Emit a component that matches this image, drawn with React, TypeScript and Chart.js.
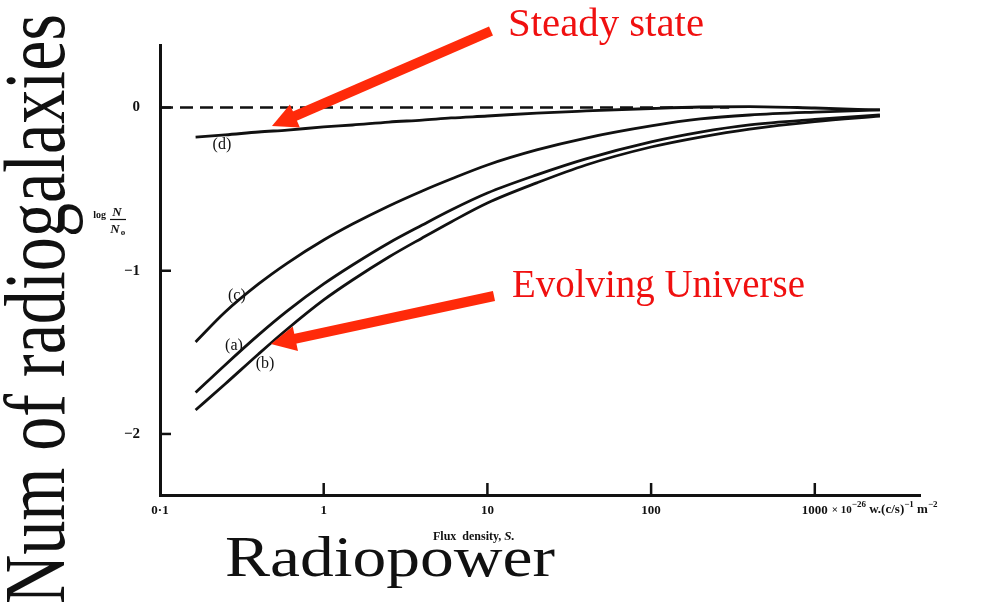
import { useEffect, useRef } from 'react';
import { Chart, registerables } from 'chart.js';

Chart.register(...registerables);

// Flux density S (x10^-26 W (c/s)^-1 m^-2) where each model curve is sampled
const fluxDensity = [0.165, 0.25, 0.4, 0.6, 1, 1.5, 2.5, 4, 6, 10, 20, 40, 100, 200, 400, 1000, 2500];

// log(N/N0) predicted by each model
const curveA = [-1.746, -1.577, -1.393, -1.246, -1.081, -0.965, -0.83, -0.72, -0.628, -0.524, -0.413, -0.315, -0.211, -0.151, -0.107, -0.073, -0.046];
const curveB = [-1.853, -1.694, -1.51, -1.357, -1.179, -1.057, -0.916, -0.799, -0.701, -0.585, -0.462, -0.352, -0.242, -0.181, -0.132, -0.086, -0.052];
const curveC = [-1.436, -1.253, -1.081, -0.953, -0.812, -0.714, -0.603, -0.511, -0.438, -0.352, -0.26, -0.187, -0.113, -0.07, -0.046, -0.028, -0.015];
const curveD = [-0.181, -0.168, -0.15, -0.138, -0.119, -0.107, -0.089, -0.077, -0.064, -0.052, -0.034, -0.021, -0.006, 0.003, 0.006, -0.003, -0.015];

// Dashed reference level log(N/N0) = 0
const zeroLineFlux = [0.1, 300];
const zeroLineValue = [0, 0];

const xTickValues = [0.1, 1, 10, 100, 1000];
const xTickLabels = ['0·1', '1', '10', '100', '1000'];
const yTickValues = [-2, -1, 0];
const yTickLabels = ['−2', '−1', '0'];

// Curve tags, anchored in data coordinates
const curveTags = [
  { text: '(a)', s: 0.283, v: -1.461 },
  { text: '(b)', s: 0.438, v: -1.571 },
  { text: '(c)', s: 0.295, v: -1.155 },
  { text: '(d)', s: 0.239, v: -0.23 },
];

// Arrow tips (data coordinates) for the two callouts
const steadyTip = { s: 0.483, v: -0.113 };
const evolvingTip = { s: 0.476, v: -1.449 };

const INK = '#111';
const ARROW_RED = '#ff2a0a';
const TEXT_RED = '#f01010';
const SERIF = '"Liberation Serif", serif';

function fittedText(ctx: CanvasRenderingContext2D, text: string, size: number, x: number, y: number, width: number, color: string) {
  ctx.save();
  ctx.font = `${size}px ${SERIF}`;
  ctx.fillStyle = color;
  ctx.textAlign = 'left';
  ctx.textBaseline = 'alphabetic';
  const w = ctx.measureText(text).width;
  ctx.translate(x, y);
  ctx.scale(width / w, 1);
  ctx.fillText(text, 0, 0);
  ctx.restore();
}

function arrow(ctx: CanvasRenderingContext2D, x0: number, y0: number, x1: number, y1: number) {
  const a = Math.atan2(y1 - y0, x1 - x0);
  const headLen = 25;
  const half = 12.5;
  const bx = x1 - headLen * Math.cos(a);
  const by = y1 - headLen * Math.sin(a);
  ctx.save();
  ctx.strokeStyle = ARROW_RED;
  ctx.fillStyle = ARROW_RED;
  ctx.lineWidth = 10;
  ctx.lineCap = 'butt';
  ctx.beginPath();
  ctx.moveTo(x0, y0);
  ctx.lineTo(bx + 2 * Math.cos(a), by + 2 * Math.sin(a));
  ctx.stroke();
  ctx.beginPath();
  ctx.moveTo(x1, y1);
  ctx.lineTo(bx + half * Math.sin(a), by - half * Math.cos(a));
  ctx.lineTo(bx - half * Math.sin(a), by + half * Math.cos(a));
  ctx.closePath();
  ctx.fill();
  ctx.restore();
}

const decorations = {
  id: 'decorations',
  beforeDraw(chart: any) {
    const { ctx, width, height } = chart;
    ctx.save();
    ctx.fillStyle = '#fff';
    ctx.fillRect(0, 0, width, height);
    ctx.restore();
  },
  afterDraw(chart: any) {
    const { ctx, chartArea } = chart;
    const x = chart.scales.x;
    const y = chart.scales.y;
    ctx.save();

    // inward tick marks
    ctx.strokeStyle = INK;
    ctx.lineWidth = 2.5;
    yTickValues.forEach((v) => {
      const py = y.getPixelForValue(v);
      ctx.beginPath();
      ctx.moveTo(chartArea.left, py);
      ctx.lineTo(chartArea.left + 11, py);
      ctx.stroke();
    });
    xTickValues.slice(1).forEach((v) => {
      const px = x.getPixelForValue(v);
      ctx.beginPath();
      ctx.moveTo(px, chartArea.bottom);
      ctx.lineTo(px, chartArea.bottom - 12);
      ctx.stroke();
    });

    // curve tags
    ctx.fillStyle = INK;
    ctx.font = `16px ${SERIF}`;
    ctx.textAlign = 'center';
    ctx.textBaseline = 'middle';
    curveTags.forEach((t) => {
      ctx.fillText(t.text, x.getPixelForValue(t.s), y.getPixelForValue(t.v));
    });

    // y axis quantity: log N/N0
    ctx.textBaseline = 'alphabetic';
    ctx.textAlign = 'right';
    ctx.font = `bold 10px ${SERIF}`;
    ctx.fillText('log', 106, 218);
    ctx.textAlign = 'center';
    ctx.font = `italic bold 13px ${SERIF}`;
    ctx.fillText('N', 117, 216);
    ctx.lineWidth = 1.2;
    ctx.beginPath();
    ctx.moveTo(110, 219.5);
    ctx.lineTo(126, 219.5);
    ctx.stroke();
    ctx.fillText('N', 115, 233);
    ctx.font = `bold 9px ${SERIF}`;
    ctx.fillText('o', 123, 235);

    // unit suffix after the 1000 tick label
    const labelBase = 513;
    ctx.textAlign = 'left';
    ctx.font = `bold 13px ${SERIF}`;
    const w1000 = ctx.measureText('1000').width;
    let cx = x.getPixelForValue(1000) + w1000 / 2 + 4;
    const put = (s: string, font: string, dy: number) => {
      ctx.font = font;
      ctx.fillText(s, cx, labelBase + dy);
      cx += ctx.measureText(s).width;
    };
    put('× 10', `bold 11px ${SERIF}`, 0);
    put('−26', `bold 9px ${SERIF}`, -6);
    put(' w.(c/s)', `bold 13px ${SERIF}`, 0);
    put('−1', `bold 9px ${SERIF}`, -6);
    put(' m', `bold 13px ${SERIF}`, 0);
    put('−2', `bold 9px ${SERIF}`, -6);

    // x axis quantity
    ctx.font = `bold 12px ${SERIF}`;
    ctx.textAlign = 'left';
    ctx.fillText('Flux  density,', 433, 540);
    const wf = ctx.measureText('Flux  density,').width;
    ctx.font = `italic bold 13px ${SERIF}`;
    ctx.fillText('S.', 433 + wf + 3, 540);

    // large slide titles
    fittedText(ctx, 'Radiopower', 57, 225, 576, 330, INK);
    ctx.save();
    ctx.translate(64, 604);
    ctx.rotate(-Math.PI / 2);
    ctx.font = `86px ${SERIF}`;
    ctx.fillStyle = INK;
    ctx.textAlign = 'left';
    const numText = 'Num of radiogalaxies';
    const wn = ctx.measureText(numText).width;
    ctx.scale(590 / wn, 1);
    ctx.fillText(numText, 0, 0);
    ctx.restore();

    // callouts
    fittedText(ctx, 'Steady state', 41, 508, 36, 196, TEXT_RED);
    fittedText(ctx, 'Evolving Universe', 41, 512, 297, 293, TEXT_RED);
    arrow(ctx, 491, 31, x.getPixelForValue(steadyTip.s), y.getPixelForValue(steadyTip.v));
    arrow(ctx, 494, 296, x.getPixelForValue(evolvingTip.s), y.getPixelForValue(evolvingTip.v));

    ctx.restore();
  },
};

export default function App() {
  const canvasRef = useRef<HTMLCanvasElement>(null);

  useEffect(() => {
    const canvas = canvasRef.current;
    if (!canvas) return;
    const toPoints = (xs: number[], ys: number[]) => xs.map((s, i) => ({ x: s, y: ys[i] }));
    const curve = (vals: number[]) => ({
      data: toPoints(fluxDensity, vals),
      borderColor: INK,
      borderWidth: 2.8,
      pointRadius: 0,
      cubicInterpolationMode: 'monotone' as const,
      fill: false,
    });

    const chart = new Chart(canvas, {
      type: 'line',
      data: {
        datasets: [
          curve(curveA),
          curve(curveB),
          curve(curveC),
          curve(curveD),
          {
            data: toPoints(zeroLineFlux, zeroLineValue),
            borderColor: INK,
            borderWidth: 2.6,
            borderDash: [13, 7],
            pointRadius: 0,
            fill: false,
          },
        ],
      },
      options: {
        animation: false,
        responsive: true,
        maintainAspectRatio: false,
        layout: { padding: { top: 45, right: 69, left: 0, bottom: 0 } },
        plugins: { legend: { display: false }, tooltip: { enabled: false } },
        scales: {
          x: {
            type: 'logarithmic',
            min: 0.1,
            max: 4392,
            grid: { display: false, drawTicks: false },
            border: { display: true, color: INK, width: 3 },
            afterBuildTicks: (scale: any) => {
              scale.ticks = xTickValues.map((v) => ({ value: v }));
            },
            afterFit: (scale: any) => {
              scale.height = 110;
            },
            ticks: {
              autoSkip: false,
              maxRotation: 0,
              padding: 8,
              color: INK,
              font: { family: 'Liberation Serif', weight: 'bold', size: 13 },
              callback: (value: any) => {
                const i = xTickValues.indexOf(Number(value));
                return i >= 0 ? xTickLabels[i] : '';
              },
            },
          },
          y: {
            type: 'linear',
            min: -2.374,
            max: 0.383,
            grid: { display: false, drawTicks: false },
            border: { display: true, color: INK, width: 3 },
            afterBuildTicks: (scale: any) => {
              scale.ticks = yTickValues.map((v) => ({ value: v }));
            },
            afterFit: (scale: any) => {
              scale.width = 160;
            },
            ticks: {
              padding: 20,
              color: INK,
              font: { family: 'Liberation Serif', weight: 'bold', size: 15 },
              callback: (value: any) => {
                const i = yTickValues.indexOf(Number(value));
                return i >= 0 ? yTickLabels[i] : '';
              },
            },
          },
        },
      },
      plugins: [decorations],
    });
    return () => chart.destroy();
  }, []);

  return (
    <div style={{ position: 'fixed', left: 0, top: 0, width: 989, height: 605, background: '#fff' }}>
      <canvas ref={canvasRef} />
    </div>
  );
}
